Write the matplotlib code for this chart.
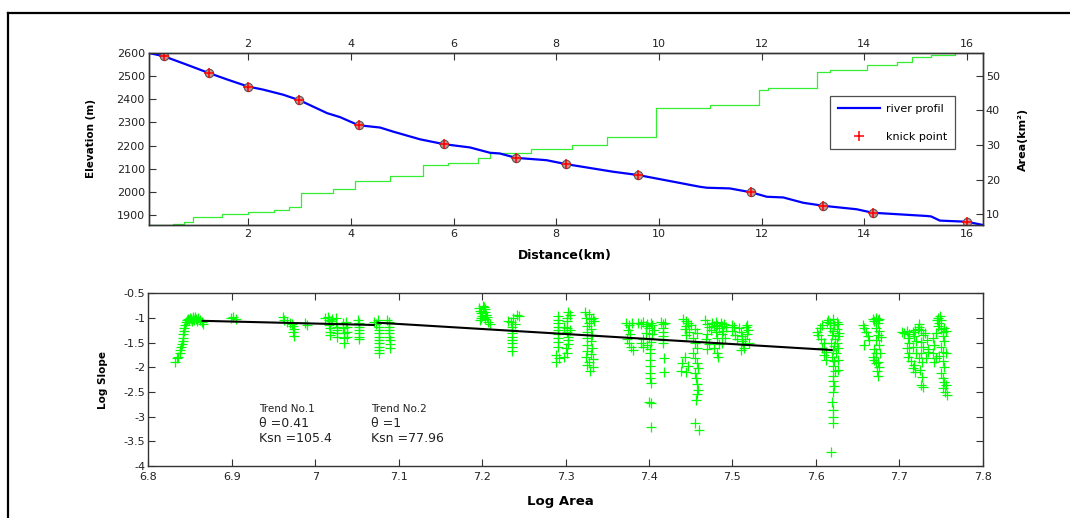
import matplotlib
matplotlib.use("Agg")
import matplotlib.pyplot as plt
from matplotlib.lines import Line2D

plt.rcParams['font.family'] = ['DejaVu Sans']
plt.rcParams['axes.unicode_minus'] = False

# ---------------- data: river profile ----------------
prof_dist = [0.07, 0.36, 0.8, 1.23, 1.6, 2.0, 2.29, 2.68, 3.0, 3.54, 3.79, 4.15, 4.57, 4.83,
             5.35, 5.82, 6.32, 6.71, 6.9, 7.22, 7.81, 8.19, 9.11, 9.59, 10.02, 10.8, 10.93,
             11.38, 11.8, 12.1, 12.42, 12.81, 13.2, 13.85, 14.16, 15.21, 15.3, 15.47, 16.0, 16.31]
prof_elev = [2600, 2586, 2550, 2514, 2485, 2455, 2442, 2420, 2396, 2340, 2323, 2288, 2278, 2260,
             2227, 2206, 2192, 2169, 2166, 2147, 2137, 2120, 2087, 2073, 2055, 2022, 2018,
             2015, 1998, 1979, 1976, 1953, 1940, 1925, 1910, 1896, 1894, 1876, 1871, 1857]

knick_dist = [0.36, 1.23, 2.0, 3.0, 4.15, 5.82, 7.22, 8.19, 9.59, 11.8, 13.2, 14.16, 16.0]
knick_elev = [2586, 2514, 2455, 2396, 2288, 2206, 2147, 2120, 2073, 1998, 1940, 1910, 1871]

area_dist = [0.07, 0.54, 0.75, 0.93, 1.5, 2.0, 2.5, 2.8, 3.03, 3.3, 3.65, 4.08, 4.76, 5.41, 5.9,
             6.48, 6.71, 7.5, 8.3, 8.99, 9.94, 11.0, 11.95, 12.12, 13.08, 13.33, 14.05, 14.63,
             14.93, 15.3, 15.76]
area_val = [6.9, 7.1, 7.9, 9.3, 10.0, 10.6, 11.3, 12.0, 16.0, 16.2, 17.3, 19.7, 21.0, 24.2, 24.8,
            26.3, 27.7, 28.8, 29.9, 32.3, 40.5, 41.5, 45.8, 46.5, 51.0, 51.7, 53.0, 53.8,
            55.3, 56.0, 56.5]

dist_ticks = [2, 4, 6, 8, 10, 12, 14, 16]
elev_ticks = [1900, 2000, 2100, 2200, 2300, 2400, 2500, 2600]
area_ticks = [10, 20, 30, 40, 50]

# ---------------- data: slope-area ----------------
log_area = [
    6.832, 6.834, 6.836, 6.838, 6.838, 6.839, 6.840, 6.841, 6.841, 6.842, 6.843, 6.843, 6.844, 6.845,
    6.846, 6.847, 6.849, 6.850, 6.851, 6.852, 6.853, 6.854, 6.855, 6.856, 6.857, 6.858, 6.860, 6.862,
    6.864, 6.866,
    6.899, 6.902, 6.905,
    6.962, 6.963, 6.966, 6.970, 6.972, 6.974, 6.975, 6.974, 6.975,
    6.988, 6.990,
    7.012, 7.015, 7.017, 7.019, 7.020, 7.017, 7.018, 7.018, 7.018,
    7.025, 7.025, 7.026, 7.026, 7.026, 7.026,
    7.033, 7.033, 7.034, 7.034, 7.034,
    7.037, 7.038, 7.038, 7.038,
    7.051, 7.052, 7.053, 7.053, 7.053, 7.053, 7.053,
    7.070, 7.073, 7.075, 7.076, 7.076, 7.076, 7.076, 7.076, 7.076, 7.076, 7.076, 7.077,
    7.086, 7.088, 7.089, 7.089, 7.089, 7.089, 7.089, 7.090, 7.090, 7.090,
    7.196, 7.198, 7.199, 7.200, 7.199, 7.198, 7.201, 7.203, 7.204, 7.205, 7.206, 7.204, 7.207, 7.209,
    7.202,
    7.242, 7.237, 7.231, 7.235, 7.239, 7.236, 7.236, 7.236, 7.236, 7.236, 7.236, 7.236, 7.236, 7.244,
    7.291, 7.291, 7.291, 7.291, 7.291, 7.291, 7.291, 7.291, 7.291, 7.289, 7.292, 7.289,
    7.303, 7.305, 7.302, 7.302, 7.298, 7.302, 7.305, 7.302, 7.303, 7.303, 7.303, 7.300, 7.302, 7.298,
    7.323, 7.328, 7.325, 7.330, 7.333, 7.334, 7.328, 7.326, 7.330, 7.326, 7.332, 7.326, 7.330, 7.326,
    7.332, 7.326, 7.330, 7.325, 7.333, 7.328, 7.326, 7.333, 7.329,
    7.373, 7.376, 7.380, 7.375, 7.377, 7.374, 7.376, 7.378, 7.381,
    7.387, 7.390, 7.393, 7.396, 7.398, 7.400, 7.402, 7.404, 7.406, 7.396, 7.393, 7.390, 7.393, 7.398,
    7.400, 7.404, 7.402, 7.401, 7.401, 7.401, 7.401, 7.401, 7.401, 7.402, 7.400, 7.402, 7.402,
    7.415, 7.419, 7.417, 7.417, 7.417, 7.417, 7.417, 7.417, 7.418, 7.418,
    7.441, 7.444, 7.447, 7.445, 7.443, 7.448, 7.445, 7.443, 7.440, 7.447, 7.438, 7.444,
    7.451, 7.455, 7.458, 7.453, 7.455, 7.457, 7.453, 7.455, 7.457, 7.459, 7.455, 7.456, 7.458, 7.459,
    7.458, 7.456, 7.455, 7.460,
    7.467, 7.470, 7.472, 7.474, 7.470, 7.468, 7.472, 7.470, 7.476, 7.478, 7.480, 7.482, 7.484, 7.480,
    7.482, 7.484, 7.478, 7.481, 7.486, 7.488, 7.490, 7.492, 7.489, 7.487, 7.491, 7.487, 7.483,
    7.499, 7.502, 7.500, 7.503, 7.506, 7.508, 7.510, 7.512, 7.511, 7.513, 7.516, 7.518, 7.519, 7.517,
    7.515, 7.520, 7.514, 7.510,
    7.601, 7.603, 7.605, 7.606, 7.608, 7.610, 7.608, 7.612, 7.610, 7.612, 7.613,
    7.614, 7.617, 7.620, 7.622, 7.625, 7.627, 7.617, 7.621, 7.625, 7.619, 7.623, 7.627, 7.618, 7.622,
    7.625, 7.620, 7.624, 7.619, 7.622, 7.620, 7.623, 7.621, 7.620, 7.622, 7.621, 7.619, 7.620, 7.620,
    7.620, 7.618, 7.628, 7.626, 7.626, 7.626,
    7.656, 7.658, 7.660, 7.662, 7.664, 7.658, 7.668, 7.670, 7.672, 7.674, 7.676, 7.674, 7.672, 7.676,
    7.674, 7.672, 7.676, 7.670, 7.672, 7.668, 7.670, 7.672, 7.675, 7.676, 7.673, 7.677, 7.678, 7.675,
    7.703, 7.706, 7.709, 7.712, 7.710, 7.712, 7.709, 7.712, 7.710, 7.714, 7.716, 7.719, 7.718, 7.720,
    7.717, 7.720, 7.718, 7.716, 7.719, 7.722, 7.724, 7.726, 7.728, 7.726, 7.728, 7.726, 7.724, 7.727,
    7.725, 7.727, 7.726, 7.729, 7.731, 7.733, 7.734, 7.732, 7.735, 7.724,
    7.740, 7.742, 7.740, 7.744, 7.742, 7.745, 7.747, 7.749, 7.750, 7.748, 7.746, 7.750, 7.752, 7.754,
    7.756, 7.752, 7.754, 7.750, 7.753, 7.748, 7.752, 7.754, 7.750, 7.752, 7.754, 7.756, 7.752, 7.755,
    7.757, 7.744, 7.756,
]
log_slope = [
    -1.89, -1.82, -1.79, -1.72, -1.65, -1.58, -1.52, -1.46, -1.40, -1.33, -1.27, -1.20, -1.14, -1.08,
    -1.04, -1.02, -1.05, -1.00, -1.03, -1.07, -0.99, -1.02, -1.05, -0.98, -1.03, -1.06, -1.01, -1.05,
    -1.09, -1.12,
    -1.01, -0.99, -1.02,
    -0.98, -1.05, -1.08, -1.10, -1.13, -1.17, -1.22, -1.29, -1.37,
    -1.10, -1.14,
    -1.00, -0.98, -1.04, -1.07, -1.02, -1.14, -1.21, -1.28, -1.35,
    -1.01, -1.11, -1.18, -1.25, -1.31, -1.38,
    -1.11, -1.21, -1.31, -1.41, -1.51,
    -1.08, -1.18, -1.28, -1.38,
    -1.04, -1.11, -1.18, -1.25, -1.31, -1.38, -1.43,
    -1.08, -1.12, -1.05, -1.18, -1.25, -1.31, -1.38, -1.45, -1.51, -1.58, -1.65, -1.72,
    -1.04, -1.09, -1.11, -1.18, -1.25, -1.31, -1.38, -1.45, -1.52, -1.60,
    -0.80, -0.85, -0.90, -0.95, -1.00, -1.05, -0.75, -0.82, -0.88, -0.93, -0.98, -1.03, -1.08, -1.12,
    -0.78,
    -0.94, -1.01, -1.06, -1.09, -1.12, -1.18, -1.25, -1.31, -1.38, -1.45, -1.51, -1.58, -1.66, -0.97,
    -0.97, -1.04, -1.11, -1.18, -1.25, -1.32, -1.40, -1.48, -1.58, -1.75, -1.82, -1.89,
    -0.87, -0.94, -1.00, -1.07, -1.18, -1.21, -1.25, -1.28, -1.38, -1.45, -1.52, -1.60, -1.72, -1.80,
    -0.88, -0.92, -1.00, -1.03, -1.00, -1.07, -1.10, -1.17, -1.22, -1.28, -1.34, -1.40, -1.47, -1.55,
    -1.60, -1.67, -1.73, -1.80, -1.83, -1.90, -1.96, -2.00, -2.07,
    -1.11, -1.14, -1.10, -1.24, -1.32, -1.42, -1.50, -1.58, -1.65,
    -1.10, -1.13, -1.09, -1.16, -1.12, -1.20, -1.10, -1.15, -1.24, -1.30, -1.42, -1.50, -1.58, -1.55,
    -1.40, -1.33, -1.48, -1.62, -1.72, -1.85, -1.98, -2.12, -2.22, -2.32, -2.70, -2.72, -3.20,
    -1.08, -1.10, -1.13, -1.20, -1.28, -1.36, -1.44, -1.51, -1.82, -2.09,
    -1.02, -1.06, -1.10, -1.16, -1.22, -1.28, -1.35, -1.80, -1.92, -1.98, -2.08, -2.10,
    -1.15, -1.22, -1.30, -1.40, -1.50, -1.60, -1.72, -1.82, -1.92, -2.02, -2.12, -2.22, -2.33, -2.45,
    -2.55, -2.66, -3.13, -3.27,
    -1.05, -1.12, -1.18, -1.25, -1.32, -1.42, -1.52, -1.62, -1.10, -1.16, -1.08, -1.14, -1.20, -1.28,
    -1.40, -1.52, -1.60, -1.70, -1.10, -1.16, -1.12, -1.18, -1.26, -1.33, -1.41, -1.50, -1.80,
    -1.14, -1.18, -1.26, -1.35, -1.42, -1.20, -1.28, -1.36, -1.46, -1.52, -1.18, -1.14, -1.25, -1.33,
    -1.42, -1.50, -1.60, -1.65,
    -1.28, -1.35, -1.20, -1.42, -1.15, -1.50, -1.60, -1.68, -1.75, -1.85, -1.08,
    -1.05, -1.10, -1.02, -1.15, -1.08, -1.12, -1.20, -1.27, -1.22, -1.35, -1.42, -1.36, -1.50, -1.57,
    -1.50, -1.65, -1.72, -1.80, -1.88, -1.98, -2.08, -2.18, -2.28, -2.38, -2.50, -2.70, -2.87, -3.00,
    -3.13, -3.71, -1.30, -1.60, -1.85, -2.05,
    -1.14, -1.20, -1.28, -1.36, -1.44, -1.55, -1.02, -1.06, -1.00, -1.04, -1.02, -1.10, -1.20, -1.27,
    -1.35, -1.45, -1.55, -1.62, -1.70, -1.80, -1.86, -1.92, -1.90, -2.00, -2.08, -1.72, -1.38, -2.18,
    -1.28, -1.30, -1.26, -1.32, -1.40, -1.50, -1.60, -1.70, -1.80, -1.88, -1.28, -1.24, -1.36, -1.46,
    -1.58, -1.70, -1.95, -2.02, -2.10, -1.22, -1.18, -1.25, -1.35, -1.48, -1.58, -1.70, -1.82, -1.90,
    -2.05, -2.20, -2.35, -2.40, -1.30, -1.45, -1.62, -1.82, -1.68, -1.12,
    -1.40, -1.55, -1.70, -1.82, -1.90, -1.05, -1.00, -0.97, -1.05, -1.10, -1.16, -1.22, -1.28, -1.20,
    -1.26, -1.36, -1.46, -1.58, -1.68, -1.78, -1.88, -2.00, -2.12, -2.22, -2.30, -2.36, -2.42, -2.50,
    -2.56, -1.30, -1.72,
]

trend1_x = [6.865, 7.070]
trend1_y = [-1.058, -1.142]
trend2_x = [7.075, 7.619]
trend2_y = [-1.096, -1.650]

la_ticks = [6.8, 6.9, 7.0, 7.1, 7.2, 7.3, 7.4, 7.5, 7.6, 7.7, 7.8]
la_labels = ['6.8', '6.9', '7', '7.1', '7.2', '7.3', '7.4', '7.5', '7.6', '7.7', '7.8']
ls_ticks = [-4, -3.5, -3, -2.5, -2, -1.5, -1, -0.5]
ls_labels = ['-4', '-3.5', '-3', '-2.5', '-2', '-1.5', '-1', '-0.5']

# ---------------- figure ----------------
W, H = 1070, 518
fig = plt.figure(figsize=(W / 100, H / 100), dpi=100)

spine_col = '#333333'
tick_col = '#222222'

def px_rect(x0, y0, x1, y1):
    return [x0 / W, 1 - y1 / H, (x1 - x0) / W, (y1 - y0) / H]

def style(ax):
    for s in ax.spines.values():
        s.set_color(spine_col)
        s.set_linewidth(1.0)
    ax.tick_params(direction='in', length=5, width=0.8, colors=spine_col,
                   labelcolor=tick_col, labelsize=8, pad=3)

# top panel
ax1 = fig.add_axes(px_rect(149, 53, 983, 225))
ax2 = ax1.twinx()
ax1.set_zorder(ax2.get_zorder() + 1)
ax1.patch.set_visible(False)

ax2.step(area_dist, area_val, where='post', color='#33ee33', lw=0.9)
ax1.plot(prof_dist, prof_elev, color='#0000ff', lw=1.6, label='river profil')
ax1.plot(knick_dist, knick_elev, 'o', ms=6, mfc='#d09090', mec='#555555', mew=0.8)
ax1.plot(knick_dist, knick_elev, '+', color='red', ms=7, mew=1.1, ls='none', label='knick point')

ax1.set_xlim(0.07, 16.31)
ax1.set_ylim(1857, 2600)
ax2.set_ylim(6.9, 56.5)
ax1.set_xticks(dist_ticks)
ax1.set_yticks(elev_ticks)
ax2.set_yticks(area_ticks)
style(ax1)
style(ax2)
ax1.tick_params(axis='x', top=True, labeltop=True, bottom=True, labelbottom=True)
ax1.tick_params(axis='y', left=True, right=False)
ax2.tick_params(axis='y', right=True, left=False, pad=2)

ax1.set_xlabel('Distance(km)', fontsize=9, fontweight='bold')
ax1.xaxis.set_label_coords(0.499, -0.14)
ax1.set_ylabel('Elevation (m)', fontsize=7.5, fontweight='bold')
ax1.yaxis.set_label_coords(-0.063, 0.5)
ax2.set_ylabel('Area(km²)', fontsize=8, fontweight='bold')
ax2.yaxis.set_label_coords(1.042, 0.5)

leg = ax1.legend(loc='upper left', bbox_to_anchor=(0.8165, 0.75), fontsize=8,
                 frameon=True, fancybox=False, borderpad=0.7, labelspacing=1.6,
                 handlelength=3.8, handletextpad=0.5, borderaxespad=0.0)
leg.get_frame().set_edgecolor('#222222')
leg.get_frame().set_linewidth(0.9)

# bottom panel
ax3 = fig.add_axes(px_rect(148.3, 293.3, 982.7, 466))
ax3.plot(log_area, log_slope, '+', color='#00ff00', ms=7, mew=0.9, ls='none')
ax3.plot(trend1_x, trend1_y, color='black', lw=1.5)
ax3.plot(trend2_x, trend2_y, color='black', lw=1.5)
ax3.set_xlim(6.8, 7.8)
ax3.set_ylim(-4, -0.5)
ax3.set_xticks(la_ticks)
ax3.set_xticklabels(la_labels)
ax3.set_yticks(ls_ticks)
ax3.set_yticklabels(ls_labels)
style(ax3)
ax3.tick_params(top=True, right=True, pad=2)
ax3.tick_params(axis='x', pad=4)

ax3.set_xlabel('Log Area', fontsize=9.5, fontweight='bold')
ax3.xaxis.set_label_coords(0.4934, -0.168)
ax3.set_ylabel('Log Slope', fontsize=7.5, fontweight='bold')
ax3.yaxis.set_label_coords(-0.048, 0.5)

ax3.text(6.9327, -2.835, 'Trend No.1', fontsize=7.5, va='center', ha='left', color='#222222')
ax3.text(6.9327, -3.139, 'θ =0.41', fontsize=9, va='center', ha='left', color='#222222')
ax3.text(6.9327, -3.433, 'Ksn =105.4', fontsize=9, va='center', ha='left', color='#222222')
ax3.text(7.0669, -2.835, 'Trend No.2', fontsize=7.5, va='center', ha='left', color='#222222')
ax3.text(7.0669, -3.139, 'θ =1', fontsize=9, va='center', ha='left', color='#222222')
ax3.text(7.0669, -3.433, 'Ksn =77.96', fontsize=9, va='center', ha='left', color='#222222')

# outer frame (left and top edges visible)
fig.add_artist(Line2D([8 / W, 8 / W], [0, 1 - 13 / H], transform=fig.transFigure,
                      color='black', lw=1.6))
fig.add_artist(Line2D([8 / W, 1], [1 - 13 / H, 1 - 13 / H], transform=fig.transFigure,
                      color='black', lw=1.6))

fig.savefig('out.png', dpi=100)
